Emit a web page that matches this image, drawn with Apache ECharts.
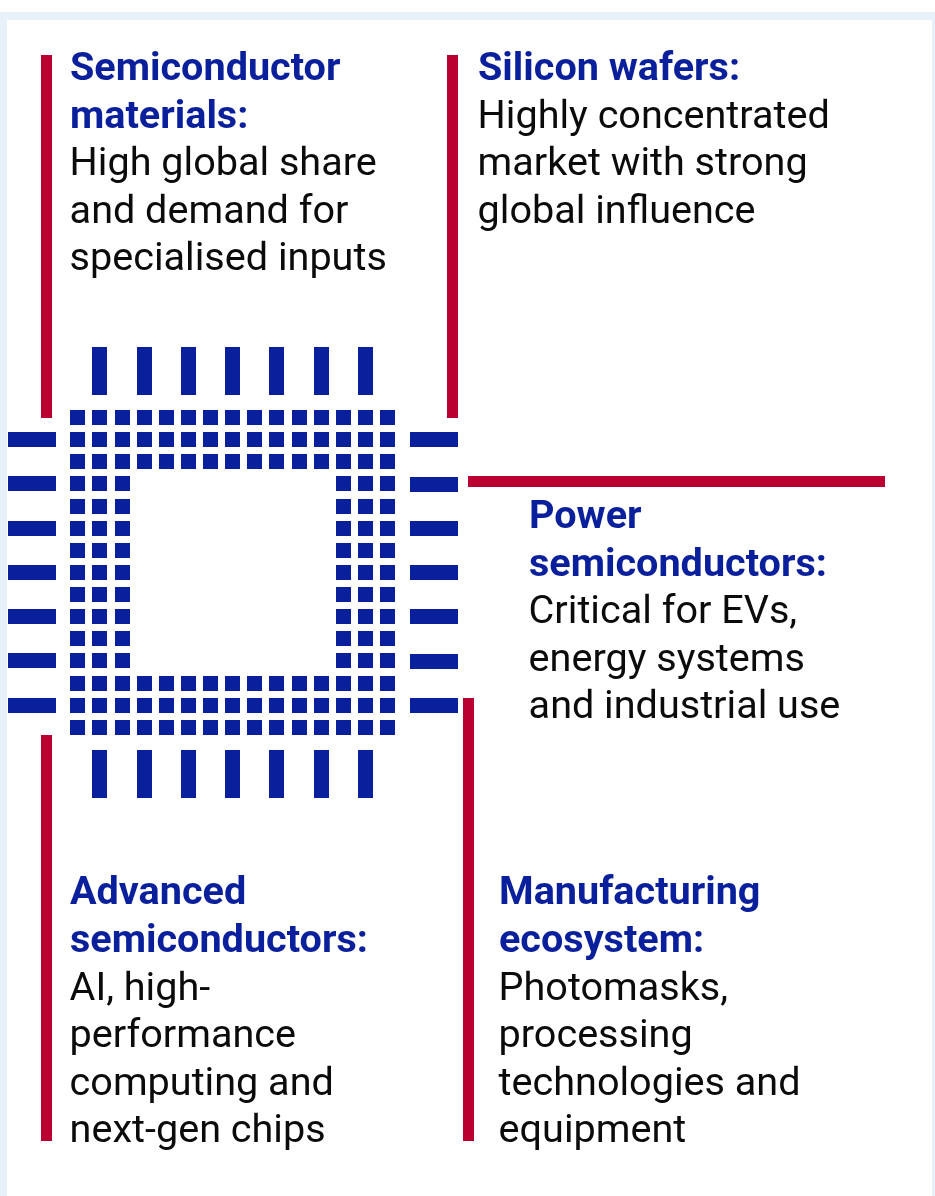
<!DOCTYPE html>
<html>
<head>
<meta charset="utf-8">
<title>Semiconductor strengths</title>
<script src="https://cdn.jsdelivr.net/npm/echarts@6/dist/echarts.min.js"></script>
<style>
html, body { margin: 0; padding: 0; background: #fff; }
#container { width: 935px; height: 1196px; }
</style>
</head>
<body>
<div id="container"></div>
<script>
// text of the five blocks
var materialsHead = ["Semiconductor", "materials:"];
var materialsBody = ["High global share", "and demand for", "specialised inputs"];
var wafersHead = ["Silicon wafers:"];
var wafersBody = ["Highly concentrated", "market with strong", "global influence"];
var powerHead = ["Power", "semiconductors:"];
var powerBody = ["Critical for EVs,", "energy systems", "and industrial use"];
var advancedHead = ["Advanced", "semiconductors:"];
var advancedBody = ["AI, high-", "performance", "computing and", "next-gen chips"];
var manufacturingHead = ["Manufacturing", "ecosystem:"];
var manufacturingBody = ["Photomasks,", "processing", "technologies and", "equipment"];

// chip: 15 x 15 pad grid, the ring is 3 pads thick
var padCols = [70, 92, 115, 137, 159, 181, 203, 225, 247, 269, 292, 314, 336, 358, 380];
var padRows = [410, 432, 454, 476, 499, 521, 543, 565, 587, 609, 631, 653, 676, 698, 720];
var pinCols = [92, 137, 181, 225, 269, 314, 358];
var pinRowsLeft = [432, 476, 521, 565, 609, 653, 698];
var pinRowsRight = [432, 477, 521, 565, 609, 654, 698];

var BLUE = '#0a1f9b';
var RED = '#b90030';
var PANEL = '#e8f0fa';
var HEAD_FONT = 'bold 39.6px Roboto';
var BODY_FONT = '39.6px Roboto';
var LINE_H = 47.6;

// [x0, y0, x1, y1]
var pads = [];
for (var r = 0; r < 15; r++) {
    for (var c = 0; c < 15; c++) {
        if (r < 3 || r > 11 || c < 3 || c > 11) {
            pads.push([padCols[c], padRows[r], padCols[c] + 15, padRows[r] + 15]);
        }
    }
}
var pins = [];
for (var i = 0; i < 7; i++) {
    pins.push([pinCols[i], 347, pinCols[i] + 15, 395]);
    pins.push([pinCols[i], 750, pinCols[i] + 15, 798]);
    pins.push([8, pinRowsLeft[i], 56, pinRowsLeft[i] + 15]);
    pins.push([410, pinRowsRight[i], 458, pinRowsRight[i] + 15]);
}
var rules = [
    [41, 55, 52, 418],
    [447, 55, 458, 418],
    [468, 476, 885, 487],
    [463, 698, 474, 1141],
    [41, 735, 52, 1141]
];
var panel = [
    [0, 12, 935, 1196]
];
var panelInner = [
    [7, 20, 932, 1196]
];

var textLines = [];
function addBlock(x, y, head, body) {
    // lines sit on whole pixels
    head.forEach(function (t) {
        textLines.push({ x: x, y: Math.round(y), text: t, font: HEAD_FONT, fill: BLUE });
        y += LINE_H;
    });
    body.forEach(function (t) {
        textLines.push({ x: x - 0.4, y: Math.round(y), text: t, font: BODY_FONT, fill: '#0b0b0b' });
        y += LINE_H;
    });
}
addBlock(70, 50, materialsHead, materialsBody);
addBlock(478, 50, wafersHead, wafersBody);
addBlock(529, 498, powerHead, powerBody);
addBlock(70, 874.4, advancedHead, advancedBody);
addBlock(499, 874.4, manufacturingHead, manufacturingBody);

function rectSeries(name, data, color) {
    return {
        name: name,
        type: 'custom',
        coordinateSystem: 'cartesian2d',
        clip: false,
        silent: true,
        data: data,
        encode: { x: [0, 2], y: [1, 3] },
        renderItem: function (params, api) {
            var a = api.coord([api.value(0), api.value(1)]);
            var b = api.coord([api.value(2), api.value(3)]);
            return {
                type: 'rect',
                shape: { x: a[0], y: a[1], width: b[0] - a[0], height: b[1] - a[1] },
                style: { fill: color }
            };
        }
    };
}

var myChart = echarts.init(document.getElementById('container'), null, { renderer: 'canvas' });

var option = {
    animation: false,
    backgroundColor: '#ffffff',
    tooltip: { show: false },
    grid: { left: 0, right: 0, top: 0, bottom: 0 },
    xAxis: { type: 'value', min: 0, max: 935, show: false },
    yAxis: { type: 'value', min: 0, max: 1196, inverse: true, show: false },
    series: [
        rectSeries('panel', panel, PANEL),
        rectSeries('panelInner', panelInner, '#ffffff'),
        rectSeries('rules', rules, RED),
        rectSeries('pins', pins, BLUE),
        rectSeries('pads', pads, BLUE),
        {
            name: 'text',
            type: 'custom',
            coordinateSystem: 'cartesian2d',
            clip: false,
            silent: true,
            data: textLines.map(function (d) { return [d.x, d.y]; }),
            encode: { x: 0, y: 1 },
            renderItem: function (params, api) {
                var line = textLines[params.dataIndex];
                var p = api.coord([api.value(0), api.value(1)]);
                return {
                    type: 'text',
                    style: {
                        x: p[0],
                        y: p[1],
                        text: line.text,
                        font: line.font,
                        fill: line.fill,
                        align: 'left',
                        verticalAlign: 'top'
                    }
                };
            }
        }
    ]
};
myChart.setOption(option);
</script>
</body>
</html>
